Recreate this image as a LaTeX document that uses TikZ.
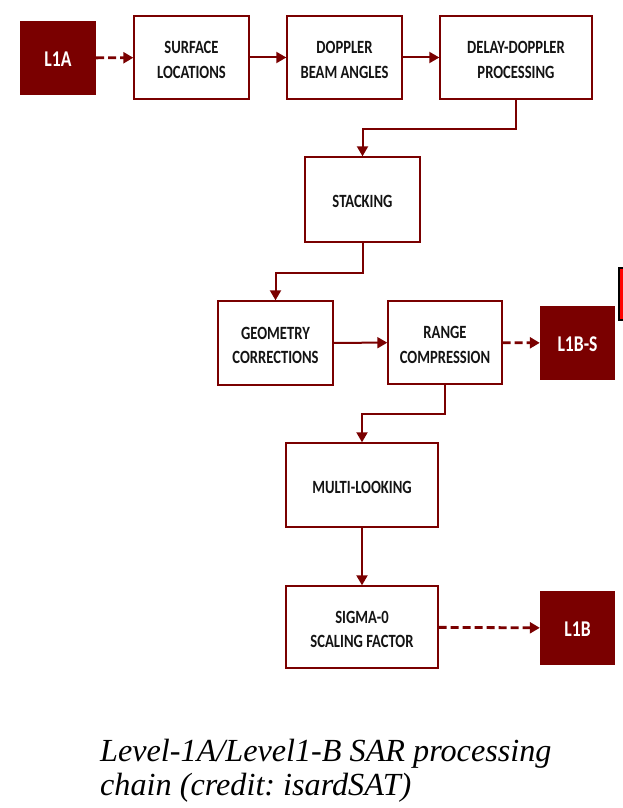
\documentclass[tikz,border=0pt]{standalone}
\usepackage{fontspec}
\usepackage{graphicx}
\setmainfont{Liberation Serif}
\newfontfamily\boxfont{Carlito}[BoldFont={Carlito Bold}]
\usetikzlibrary{arrows.meta}
\frenchspacing
\definecolor{dred}{RGB}{122,0,0}
\definecolor{txtc}{RGB}{20,20,20}
\newcommand\tx[1]{\raisebox{0pt}[\dimexpr\height+7pt\relax][\depth]{\scalebox{1}[1.28]{\begin{tabular}{@{}c@{}}#1\end{tabular}}}}
\tikzset{
  proc/.style={draw=dred, line width=1.4pt, fill=white, inner sep=0pt, text=txtc,
    font=\boxfont\bfseries\fontsize{14.6}{19}\selectfont},
  prod/.style={fill=dred, inner sep=0pt, text=white, minimum width=75pt, minimum height=74pt,
    font=\boxfont\bfseries\fontsize{17.6}{20}\selectfont},
  conn/.style={draw=dred, line width=2pt, -{Triangle[length=10pt,width=11pt]}},
  dconn/.style={conn, line width=2.8pt, dash pattern=on 8pt off 4pt},
  captext/.style={anchor=base west, inner sep=0pt, font=\itshape\fontsize{32.2}{36}\selectfont}
}
\begin{document}
\begin{tikzpicture}[x=1pt,y=-1pt]
\clip (0,0) rectangle (623,808);
\fill[white] (0,0) rectangle (623,808);
% partial red box at right edge
\draw[fill=red, draw=black, line width=2pt] (619,268) rectangle (640,320);
\node[prod, minimum width=76pt] (l1a) at (58,58) {\tx{L1A}};
\node[proc, minimum width=115pt, minimum height=83pt] (surf) at (191.5,57.5) {\tx{SURFACE\\LOCATIONS}};
\node[proc, minimum width=115pt, minimum height=83pt] (dopp) at (344.5,57.5) {\tx{DOPPLER\\BEAM ANGLES}};
\node[proc, minimum width=152pt, minimum height=83pt] (delay) at (516,57.5) {\tx{DELAY-DOPPLER\\PROCESSING}};
\node[proc, minimum width=115pt, minimum height=85pt] (stack) at (362.5,199.5) {\tx{STACKING}};
\node[proc, minimum width=115pt, minimum height=84pt] (geom) at (275.5,343) {\tx{GEOMETRY\\CORRECTIONS}};
\node[proc, minimum width=114pt, minimum height=83pt] (range) at (445,342.5) {\tx{RANGE\\COMPRESSION}};
\node[prod] (l1bs) at (577.5,343) {\tx{L1B-S}};
\node[proc, minimum width=152pt, minimum height=84pt] (multi) at (362,485) {\tx{MULTI-LOOKING}};
\node[proc, minimum width=152pt, minimum height=82pt] (sigma) at (362,627) {\tx{SIGMA-0\\SCALING FACTOR}};
\node[prod] (l1b) at (577.5,628) {\tx{L1B}};
\draw[dconn] (l1a) -- (surf);
\draw[conn] (surf) -- (dopp);
\draw[conn] (dopp) -- (delay);
\draw[conn] (delay.south) -- ++(0,29) -| (stack.north);
\draw[conn] (stack.south) -- ++(0,30) -| (geom.north);
\draw[conn] (geom) -- (range);
\draw[dconn] (range) -- (l1bs);
\draw[conn] (range.south) -- ++(0,29) -| (multi.north);
\draw[conn] (multi) -- (sigma);
\draw[dconn] (sigma) -- (l1b);
\node[captext] (cap1) at (100,761) {Level-1A/Level1-B SAR processing};
\node[captext] (cap2) at (100,795) {chain (credit: isardSAT)};
\end{tikzpicture}
\end{document}
